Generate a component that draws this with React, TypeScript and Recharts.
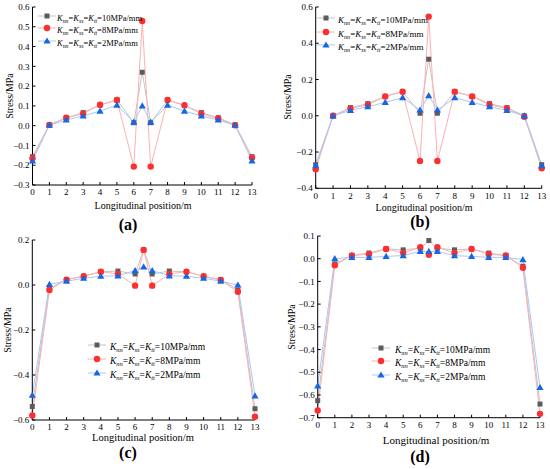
import React from 'react';
import { LineChart, Line, XAxis, YAxis } from 'recharts';

const X_POS = [0, 1, 2, 3, 4, 5, 6, 6.5, 7, 8, 9, 10, 11, 12, 13];
const X_TICKS = [0, 1, 2, 3, 4, 5, 6, 7, 8, 9, 10, 11, 12, 13];

const aK10 = [-0.157, 0.004, 0.04, 0.066, 0.104, 0.13, 0.015, 0.27, 0.015, 0.13, 0.101, 0.066, 0.04, 0.004, -0.157];
const aK8 = [-0.165, 0.004, 0.04, 0.06, 0.106, 0.13, -0.207, 0.529, -0.207, 0.13, 0.104, 0.06, 0.036, 0.002, -0.162];
const aK2 = [-0.178, 0.002, 0.029, 0.049, 0.074, 0.104, 0.018, 0.1, 0.018, 0.104, 0.074, 0.049, 0.029, 0.002, -0.178];

const bK10 = [-0.27, 0, 0.045, 0.067, 0.107, 0.133, 0.014, 0.312, 0.014, 0.133, 0.107, 0.067, 0.045, 0, -0.27];
const bK8 = [-0.295, 0, 0.04, 0.061, 0.107, 0.133, -0.249, 0.547, -0.249, 0.133, 0.107, 0.061, 0.04, -0.005, -0.29];
const bK2 = [-0.275, 0, 0.03, 0.05, 0.074, 0.1, 0.032, 0.111, 0.032, 0.1, 0.074, 0.05, 0.03, 0, -0.275];

const cK10 = [-0.54, -0.015, 0.024, 0.039, 0.059, 0.062, 0.049, 0.156, 0.049, 0.062, 0.059, 0.039, 0.024, -0.022, -0.55];
const cK8 = [-0.58, -0.022, 0.024, 0.039, 0.059, 0.049, -0.003, 0.156, -0.003, 0.049, 0.059, 0.039, 0.022, -0.03, -0.585];
const cK2 = [-0.49, 0.003, 0.017, 0.03, 0.039, 0.041, 0.064, 0.081, 0.064, 0.041, 0.039, 0.03, 0.017, 0, -0.493];

const dK10 = [-0.625, -0.023, 0.014, 0.025, 0.043, 0.039, 0.046, 0.08, 0.046, 0.039, 0.043, 0.025, 0.014, -0.033, -0.64];
const dK8 = [-0.668, -0.029, 0.014, 0.02, 0.043, 0.025, 0.051, 0.017, 0.051, 0.025, 0.043, 0.02, 0.014, -0.04, -0.683];
const dK2 = [-0.56, 0, 0.006, 0.006, 0.01, 0.014, 0.032, 0.032, 0.032, 0.014, 0.01, 0.006, 0.006, -0.004, -0.567];

const aTicks = [-0.3, -0.2, -0.1, 0, 0.1, 0.2, 0.3, 0.4, 0.5, 0.6];
const bTicks = [-0.4, -0.2, 0, 0.2, 0.4, 0.6];
const cTicks = [-0.6, -0.4, -0.2, 0, 0.2];
const dTicks = [-0.7, -0.6, -0.5, -0.4, -0.3, -0.2, -0.1, 0, 0.1];

const LEGEND_VALUES = ['10MPa/mm', '8MPa/mm', '2MPa/mm'];

const FONT = '"Liberation Serif", "Times New Roman", serif';
const GRAY = '#5c5c5c';
const RED = '#ff2e2e';
const BLUE = '#1766e3';
const GRAY_L = '#c4c4c4';
const RED_L = '#ffb0b0';
const BLUE_L = '#a3cbf8';

const buildRows = (k10: number[], k8: number[], k2: number[]) =>
  X_POS.map((x, i) => ({ x, k10: k10[i], k8: k8[i], k2: k2[i] }));

const fmt = (v: number) => {
  const s = Math.abs(v) < 1e-9 ? '0.0' : v.toFixed(1);
  return s.replace('-', '\u2212');
};

const SquareDot = (p: any) => (
  <rect key={`s${p.index}`} x={p.cx - 2.5} y={p.cy - 2.5} width={5} height={5} fill={GRAY} />
);
const CircleDot = (p: any) => <circle key={`c${p.index}`} cx={p.cx} cy={p.cy} r={3.2} fill={RED} />;
const TriDot = (p: any) => (
  <polygon
    key={`t${p.index}`}
    points={`${p.cx},${p.cy - 3.6} ${p.cx + 3.6},${p.cy + 2.6} ${p.cx - 3.6},${p.cy + 2.6}`}
    fill={BLUE}
  />
);

type Box = { left: number; right: number; top: number; bottom: number };

function Panel({ rows, box, domain, ticks }: { rows: any[]; box: Box; domain: [number, number]; ticks: number[] }) {
  const YW = 30;
  const XH = 20;
  return (
    <div style={{ position: 'absolute', left: 0, top: 0 }}>
      <LineChart
        width={550}
        height={469}
        data={rows}
        margin={{ top: box.top, right: 550 - box.right, left: box.left - YW, bottom: 469 - box.bottom - XH }}
      >
        <XAxis
          dataKey="x"
          type="number"
          domain={[0, 13]}
          ticks={X_TICKS}
          interval={0}
          height={XH}
          tickSize={-3}
          tickMargin={7}
          stroke="#000"
          tick={{ fontSize: 9, fill: '#000', fontFamily: FONT }}
        />
        <YAxis
          type="number"
          domain={domain}
          ticks={ticks}
          interval={0}
          width={YW}
          tickSize={-3}
          tickMargin={6}
          tickFormatter={fmt}
          stroke="#000"
          tick={{ fontSize: 9, fill: '#000', fontFamily: FONT }}
        />
        <XAxis xAxisId="top" orientation="top" type="number" domain={[0, 13]} height={0} tick={false} tickLine={false} stroke="#000" />
        <YAxis yAxisId="right" orientation="right" type="number" domain={domain} width={0} tick={false} tickLine={false} stroke="#000" />
        <Line dataKey="k10" stroke={GRAY_L} strokeWidth={1} dot={SquareDot} isAnimationActive={false} />
        <Line dataKey="k8" stroke={RED_L} strokeWidth={1} dot={CircleDot} isAnimationActive={false} />
        <Line dataKey="k2" stroke={BLUE_L} strokeWidth={1} dot={TriDot} isAnimationActive={false} />
      </LineChart>
    </div>
  );
}

function LegendSymbol({ kind }: { kind: number }) {
  const line = [GRAY_L, RED_L, BLUE_L][kind];
  return (
    <svg width={18} height={10} style={{ display: 'block' }}>
      <line x1={0} y1={5} x2={18} y2={5} stroke={line} strokeWidth={1} />
      {kind === 0 && <rect x={6.5} y={2.5} width={5} height={5} fill={GRAY} />}
      {kind === 1 && <circle cx={9} cy={5} r={3.2} fill={RED} />}
      {kind === 2 && <polygon points="9,1.4 12.6,7.6 5.4,7.6" fill={BLUE} />}
    </svg>
  );
}

function KText({ value, size }: { value: string; size: number }) {
  const sub = (t: string) => (
    <span style={{ fontSize: '0.68em', fontStyle: 'italic', verticalAlign: '-0.28em' }}>{t}</span>
  );
  return (
    <span style={{ fontFamily: FONT, fontSize: size, whiteSpace: 'nowrap', color: '#000' }}>
      <i>K</i>
      {sub('nn')}=<i>K</i>
      {sub('ss')}=<i>K</i>
      {sub('tt')}={value}
    </span>
  );
}

function LegendBox({ x, textX, rowsY, size }: { x: number; textX: number; rowsY: number[]; size: number }) {
  return (
    <>
      {rowsY.map((y, i) => (
        <div key={i} style={{ position: 'absolute', left: x, top: y - 6, height: 12, display: 'flex', alignItems: 'center', lineHeight: '12px' }}>
          <LegendSymbol kind={i} />
          <div style={{ position: 'absolute', left: textX - x, top: 0, height: 12, lineHeight: '12px' }}>
            <KText value={LEGEND_VALUES[i]} size={size} />
          </div>
        </div>
      ))}
    </>
  );
}

function CText({ x, y, text, size, bold, rotate }: { x: number; y: number; text: string; size: number; bold?: boolean; rotate?: boolean }) {
  return (
    <div
      style={{
        position: 'absolute',
        left: x,
        top: y,
        transform: `translate(-50%, -50%)${rotate ? ' rotate(-90deg)' : ''}`,
        fontFamily: FONT,
        fontSize: size,
        fontWeight: bold ? 700 : 400,
        lineHeight: 1,
        whiteSpace: 'nowrap',
        color: '#000',
      }}
    >
      {text}
    </div>
  );
}

export default function App() {
  return (
    <div style={{ position: 'absolute', left: 0, top: 0, width: 550, height: 469, background: '#fff', overflow: 'hidden' }}>
      <Panel rows={buildRows(aK10, aK8, aK2)} box={{ left: 32.5, right: 252, top: 7, bottom: 185 }} domain={[-0.3, 0.6]} ticks={aTicks} />
      <Panel rows={buildRows(bK10, bK8, bK2)} box={{ left: 315.7, right: 541.7, top: 7, bottom: 188.3 }} domain={[-0.4, 0.6]} ticks={bTicks} />
      <Panel rows={buildRows(cK10, cK8, cK2)} box={{ left: 32.3, right: 255, top: 240, bottom: 420 }} domain={[-0.6, 0.2]} ticks={cTicks} />
      <Panel rows={buildRows(dK10, dK8, dK2)} box={{ left: 317.7, right: 540, top: 236, bottom: 417.7 }} domain={[-0.7, 0.1]} ticks={dTicks} />

      <LegendBox x={38} textX={57} rowsY={[15.7, 28.3, 41]} size={8.5} />
      <LegendBox x={317} textX={338} rowsY={[18, 32.3, 45]} size={9} />
      <LegendBox x={88} textX={110} rowsY={[345, 359.3, 372.7]} size={9.5} />
      <LegendBox x={372} textX={395} rowsY={[347.7, 361, 375]} size={9.5} />

      <CText x={10} y={96} text="Stress/MPa" size={10} rotate />
      <CText x={288} y={97} text="Stress/MPa" size={10} rotate />
      <CText x={8} y={330} text="Stress/MPa" size={10} rotate />
      <CText x={292} y={327} text="Stress/MPa" size={10} rotate />

      <CText x={143} y={205.5} text="Longitudinal position/m" size={10} />
      <CText x={424} y={208} text="Longitudinal position/m" size={10} />
      <CText x={143} y={437.5} text="Longitudinal position/m" size={10.5} />
      <CText x={436} y={440} text="Longitudinal position/m" size={11} />

      <CText x={128} y={225} text="(a)" size={16} bold />
      <CText x={420} y={222} text="(b)" size={16} bold />
      <CText x={128} y={453} text="(c)" size={16} bold />
      <CText x={420} y={456.7} text="(d)" size={16} bold />
    </div>
  );
}
